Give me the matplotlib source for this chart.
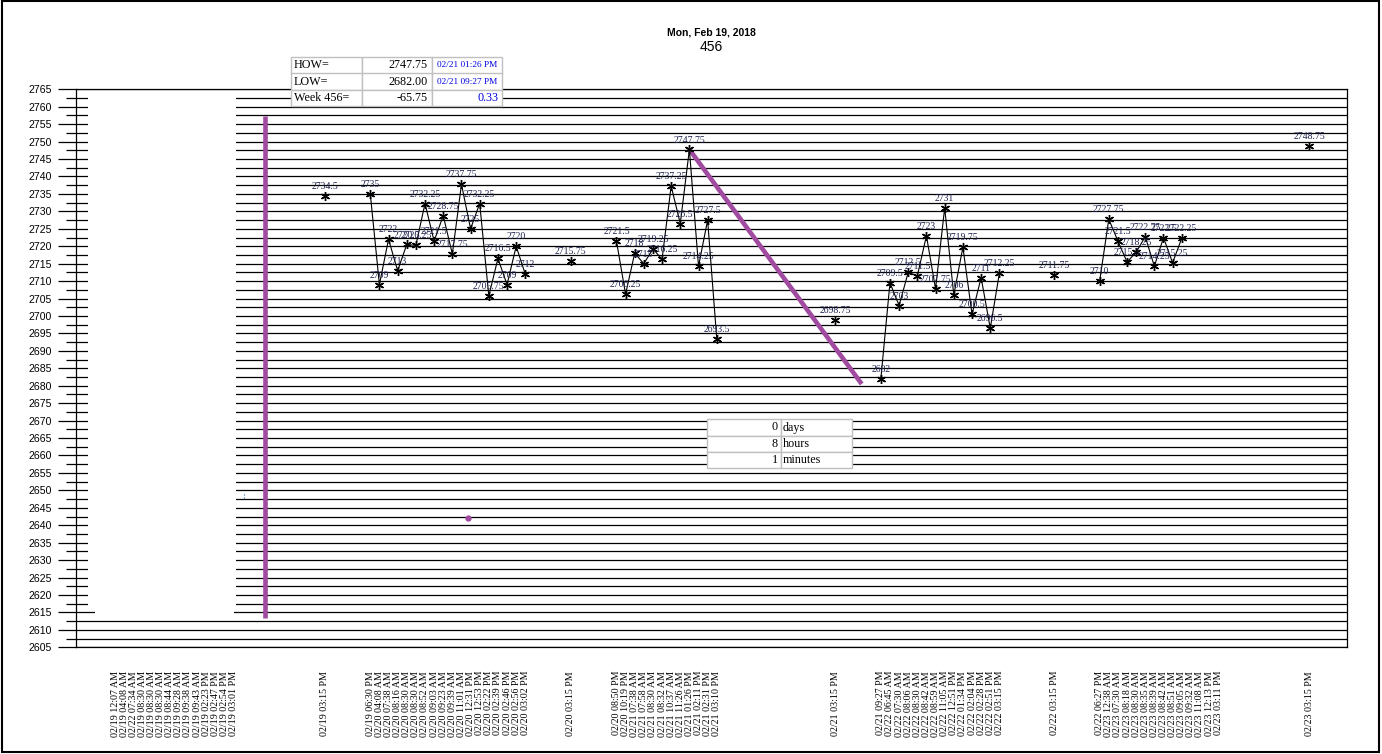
import numpy as np
import matplotlib.pyplot as plt
from matplotlib.patches import Rectangle

# ---- data ----
session_0219 = ["02/19 12:07 AM", "02/19 04:08 AM", "02/22 07:34 AM", "02/19 08:30 AM", "02/19 08:30 AM",
                "02/19 08:30 AM", "02/19 08:44 AM", "02/19 09:28 AM", "02/19 09:38 AM", "02/19 09:43 AM",
                "02/19 02:23 PM", "02/19 02:47 PM", "02/19 02:54 PM", "02/19 03:01 PM"]
session_0220 = ["02/19 06:30 PM", "02/20 04:08 AM", "02/20 07:38 AM", "02/20 08:16 AM", "02/20 08:30 AM",
                "02/20 08:30 AM", "02/20 08:52 AM", "02/20 09:03 AM", "02/20 09:23 AM", "02/20 09:39 AM",
                "02/20 11:01 AM", "02/20 12:31 PM", "02/20 12:53 PM", "02/20 02:22 PM", "02/20 02:39 PM",
                "02/20 02:46 PM", "02/20 02:56 PM", "02/20 03:02 PM"]
session_0221 = ["02/20 08:50 PM", "02/20 10:19 PM", "02/21 07:38 AM", "02/21 07:58 AM", "02/21 08:30 AM",
                "02/21 08:32 AM", "02/21 10:37 AM", "02/21 11:26 AM", "02/21 01:26 PM", "02/21 02:11 PM",
                "02/21 02:31 PM", "02/21 03:10 PM"]
session_0222 = ["02/21 09:27 PM", "02/22 06:45 AM", "02/22 07:30 AM", "02/22 08:06 AM", "02/22 08:30 AM",
                "02/22 08:42 AM", "02/22 08:59 AM", "02/22 11:05 AM", "02/22 12:51 PM", "02/22 01:34 PM",
                "02/22 02:04 PM", "02/22 02:28 PM", "02/22 02:51 PM", "02/22 03:15 PM"]
session_0223 = ["02/22 06:27 PM", "02/23 12:38 AM", "02/23 07:30 AM", "02/23 08:18 AM", "02/23 08:30 AM",
                "02/23 08:35 AM", "02/23 08:39 AM", "02/23 08:42 AM", "02/23 08:51 AM", "02/23 09:05 AM",
                "02/23 09:32 AM", "02/23 11:08 AM", "02/23 12:13 PM", "02/23 03:11 PM"]

prices_0219 = []
prices_0220 = [2735, 2709, 2722, 2713, 2720.5, 2720.25, 2732.25, 2721.5, 2728.75, 2717.75,
               2737.75, 2725, 2732.25, 2705.75, 2716.5, 2709, 2720, 2712]
prices_0221 = [2721.5, 2706.25, 2718, 2715, 2719.25, 2716.25, 2737.25, 2726.5, 2747.75, 2714.25,
               2727.5, 2693.5]
prices_0222 = [2682, 2709.5, 2703, 2712.5, 2711.5, 2723, 2707.75, 2731, 2706, 2719.75,
               2700.5, 2711, 2696.5, 2712.25]
prices_0223 = [2710, 2727.75, 2721.5, 2715.5, 2718.25, 2722.75, 2714.25, 2722.5, 2715.25, 2722.25]

settle_labels = ["02/19 03:15 PM", "02/20 03:15 PM", "02/21 03:15 PM", "02/22 03:15 PM", "02/23 03:15 PM"]
settle_prices = [2734.5, 2715.75, 2698.75, 2711.75, 2748.75]

blank_before_settle = [9, 4, 12, 5, 9]
blank_after_settle = 4

how_row = ["HOW=", "2747.75", "02/21 01:26 PM"]
low_row = ["LOW=", "2682.00", "02/21 09:27 PM"]
week_row = ["Week 456=", "-65.75", "0.33"]
span_values = ["0", "8", "1"]
span_units = ["days", "hours", "minutes"]

week_bar_low, week_bar_high = 2613.5, 2757.25
week_bar_slot = 16.45
diag_end = (81.9, 2680.5)
purple_dot = (38.7, 2642.0)

# ---- build the category axis ----
sessions = [session_0219, session_0220, session_0221, session_0222, session_0223]
prices = [prices_0219, prices_0220, prices_0221, prices_0222, prices_0223]
x_labels, sess_x, settle_x = [], [], []
for k in range(5):
    start = len(x_labels)
    x_labels += sessions[k]
    sess_x.append(np.arange(start, start + len(prices[k])))
    x_labels += [""] * blank_before_settle[k]
    settle_x.append(len(x_labels))
    x_labels.append(settle_labels[k])
    if k < 4:
        x_labels += [""] * blank_after_settle

W, H = 1382, 754
PURPLE = "#A04AA0"
NAVY = "#1e2450"
SERIF = "Liberation Serif"
SANS = "Liberation Sans"

fig = plt.figure(figsize=(W / 100, H / 100), dpi=100)
ax = fig.add_axes([76 / W, 1 - 647.3 / H, (1347 - 76) / W, (647.3 - 89.3) / H])
ax.set_xlim(-4.28, 135.13)
ax.set_ylim(2605, 2765)
ax.set_axisbelow(True)

ax.set_yticks(np.arange(2605, 2766, 5))
ax.set_yticks(np.arange(2607.5, 2765, 5), minor=True)
ax.grid(axis="y", which="both", color="black", lw=0.9)
ax.tick_params(axis="y", which="major", length=12.7, width=0.9, pad=4.8, labelsize=7.6)
ax.tick_params(axis="y", which="minor", length=7.2, width=0.9)
for lbl in ax.get_yticklabels():
    lbl.set_fontfamily(SANS)

ax.set_xticks(range(len(x_labels)))
ax.set_xticklabels(x_labels, rotation=90, fontsize=7.2, fontfamily=SERIF)
ax.tick_params(axis="x", length=0, pad=17)
for sp in ax.spines.values():
    sp.set_color("black")
    sp.set_linewidth(0.9)

# blank panel over the first session
ax.add_patch(Rectangle((-2.96, 2616.25), 16.23, 147.5, facecolor="white", edgecolor="none", zorder=1))
ax.add_patch(Rectangle((-2.19, 2614.0), 15.24, 2.3, facecolor="white", edgecolor="none", zorder=1))

# session lines and settlement points
for xs, ps in zip(sess_x, prices):
    if len(ps) == 0:
        continue
    ax.plot(xs, ps, color="black", lw=0.8, marker=(6, 2, 0), ms=6.5, mew=1.0, zorder=3)
ax.plot(settle_x, settle_prices, ls="none", color="black", marker=(6, 2, 0), ms=6.5, mew=1.0, zorder=3)

for xs, ps in list(zip(sess_x, prices)) + [(settle_x, settle_prices)]:
    for x, p in zip(xs, ps):
        ax.annotate(f"{p:g}", xy=(x, p), xytext=(0, 6.8), textcoords="offset points",
                    ha="center", va="center", fontsize=7, fontfamily=SERIF, color=NAVY, zorder=4)

# purple markers
how_x = x_labels.index(how_row[2][:5] + " 01:26 PM")
ax.plot([week_bar_slot, week_bar_slot], [week_bar_low, week_bar_high], color=PURPLE, lw=3.3,
        solid_capstyle="butt", zorder=3)
ax.plot([how_x, diag_end[0]], [float(how_row[1]), diag_end[1]], color=PURPLE, lw=3.3,
        solid_capstyle="butt", zorder=2.5)
ax.plot(*purple_dot, "o", color=PURPLE, ms=3.5, zorder=3)
ax.plot([14.15, 14.15], [2647.7, 2649.6], color="#3060c0", lw=0.8, ls=":", zorder=3)


def fx(px):
    return px / W


def fy(py):
    return 1 - py / H


def table(cols, rows):
    for r in range(len(rows) - 1):
        for c in range(len(cols) - 1):
            fig.add_artist(Rectangle((fx(cols[c]), fy(rows[r + 1])), (cols[c + 1] - cols[c]) / W,
                                     (rows[r + 1] - rows[r]) / H, transform=fig.transFigure,
                                     facecolor="white", edgecolor="#c0c0c0", lw=1.0, zorder=2))


# HOW / LOW table
cols = [291, 362, 432, 502]
rows = [57.3, 73.5, 89.8, 106]
table(cols, rows)
for r, row in enumerate([how_row, low_row, week_row]):
    yc = fy((rows[r] + rows[r + 1]) / 2)
    fig.text(fx(cols[0] + 3), yc, row[0], ha="left", va="center", fontsize=8.7, fontfamily=SERIF, zorder=3)
    fig.text(fx(cols[2] - 4), yc, row[1], ha="right", va="center", fontsize=8.7, fontfamily=SERIF, zorder=3)
    if r < 2:
        fig.text(fx((cols[2] + cols[3]) / 2), yc, row[2], ha="center", va="center", fontsize=6.7,
                 fontfamily=SERIF, color="#0000e0", zorder=3)
    else:
        fig.text(fx(cols[3] - 3), yc, row[2], ha="right", va="center", fontsize=8.7,
                 fontfamily=SERIF, color="#0000e0", zorder=3)

# elapsed time table
cols2 = [706.7, 780.7, 852.3]
rows2 = [419.3, 435.7, 452, 468.3]
table(cols2, rows2)
for r in range(3):
    yc = fy((rows2[r] + rows2[r + 1]) / 2)
    fig.text(fx(cols2[1] - 3), yc, span_values[r], ha="right", va="center", fontsize=8.7, fontfamily=SERIF, zorder=3)
    fig.text(fx(cols2[1] + 2), yc, span_units[r], ha="left", va="center", fontsize=8.7, fontfamily=SERIF, zorder=3)

# titles
fig.text(fx(711), fy(32.7), "Mon, Feb 19, 2018", ha="center", va="center", fontsize=7.5,
         fontweight="bold", fontfamily=SANS)
fig.text(fx(711), fy(46.7), "456", ha="center", va="center", fontsize=10, fontfamily=SANS)

# outer frame
fig.add_artist(Rectangle((fx(2), fy(752)), 1377 / W, 751 / H, transform=fig.transFigure,
                         fill=False, edgecolor="black", lw=1.5, zorder=5))

fig.savefig("out.png", dpi=100)
